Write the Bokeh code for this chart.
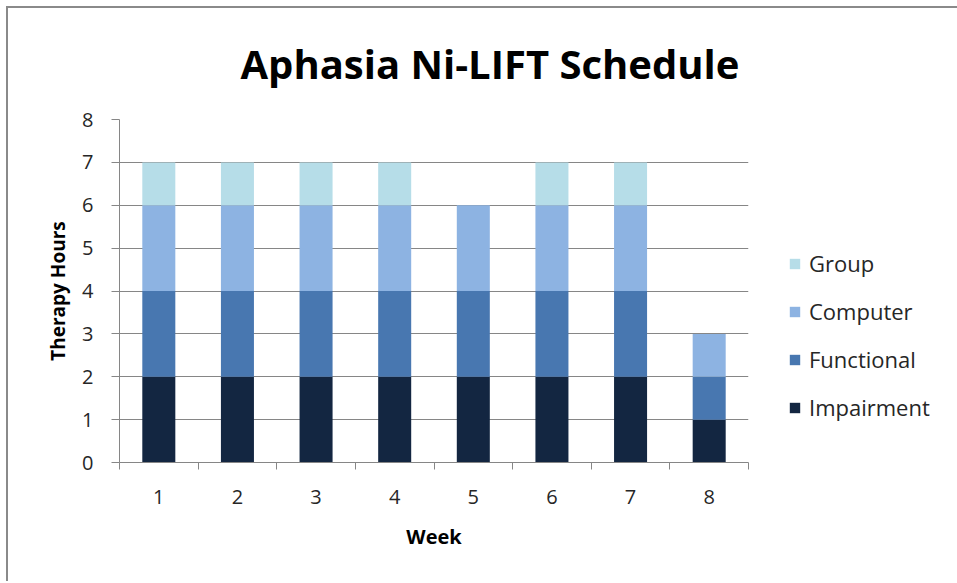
from bokeh.plotting import figure
from bokeh.models import Range1d, FixedTicker, Legend, Title, InlineStyleSheet
from bokeh.embed import file_html
from bokeh.resources import INLINE

weeks = [1, 2, 3, 4, 5, 6, 7, 8]
series = ["Impairment", "Functional", "Computer", "Group"]
impairment = [2, 2, 2, 2, 2, 2, 2, 1]
functional = [2, 2, 2, 2, 2, 2, 2, 1]
computer = [2, 2, 2, 2, 2, 2, 2, 1]
group = [1, 1, 1, 1, 0, 1, 1, 0]
colors = ["#132641", "#4877B0", "#8DB3E2", "#B6DDE8"]
y_ticks = [0, 1, 2, 3, 4, 5, 6, 7, 8]

data = {"week": weeks, "Impairment": impairment, "Functional": functional,
        "Computer": computer, "Group": group}

FONT = "Open Sans"

p = figure(frame_width=629, frame_height=343, output_backend="svg", toolbar_location=None,
           x_range=Range1d(0.5, 8.5), y_range=Range1d(0, 8),
           min_border_left=111, min_border_right=207, min_border_top=111,
           min_border_bottom=119)
p.stylesheets = [InlineStyleSheet(css=":host { margin-left: 6px; margin-top: 6px; border-left: 2px solid #8a8a8a; border-top: 2px solid #8a8a8a; }")]
p.outline_line_color = None
p.background_fill_color = "white"
p.border_fill_color = "white"

renderers = p.vbar_stack(series, x="week", width=0.42, color=colors, source=data,
                         line_color=None)

legend = Legend(items=[(s, [r]) for s, r in zip(series, renderers)][::-1],
                location="bottom_left", margin=40, border_line_color=None,
                background_fill_alpha=0,
                label_text_font=FONT, label_text_font_size="22px",
                label_text_color="#262626",
                glyph_width=13, glyph_height=13, spacing=18, padding=0,
                label_standoff=8, label_height=28)
p.add_layout(legend, "right")

# x axis
p.xaxis.ticker = FixedTicker(ticks=weeks, minor_ticks=[w - 0.5 for w in weeks] + [weeks[-1] + 0.5])
p.xaxis.major_tick_line_color = None
p.xaxis.minor_tick_line_color = "#868686"
p.xaxis.minor_tick_in = 0
p.xaxis.minor_tick_out = 7
p.xaxis.axis_line_color = "#868686"
p.xaxis.major_label_text_font = FONT
p.xaxis.major_label_text_font_size = "20px"
p.xaxis.major_label_text_color = "#262626"
p.xaxis.major_label_standoff = 20
p.xaxis.axis_label = "Week"
p.xaxis.axis_label_text_font = FONT
p.xaxis.axis_label_text_font_style = "bold"
p.xaxis.axis_label_text_font_size = "20px"
p.xaxis.axis_label_text_color = "#000000"
p.xaxis.axis_label_standoff = 16

# y axis
p.yaxis.ticker = FixedTicker(ticks=y_ticks)
p.yaxis.minor_tick_line_color = None
p.yaxis.major_tick_line_color = "#868686"
p.yaxis.major_tick_in = 0
p.yaxis.major_tick_out = 8
p.yaxis.axis_line_color = "#868686"
p.yaxis.major_label_text_font = FONT
p.yaxis.major_label_text_font_size = "20px"
p.yaxis.major_label_text_color = "#262626"
p.yaxis.major_label_standoff = 18
p.yaxis.axis_label = "Therapy Hours"
p.yaxis.axis_label_text_font = FONT
p.yaxis.axis_label_text_font_style = "bold"
p.yaxis.axis_label_text_font_size = "19px"
p.yaxis.axis_label_text_color = "#000000"
p.yaxis.axis_label_standoff = 8

p.xgrid.grid_line_color = None
p.ygrid.ticker = FixedTicker(ticks=y_ticks)
p.ygrid.grid_line_color = "#868686"
p.ygrid.grid_line_width = 1

title = Title(text="Aphasia Ni-LIFT Schedule", align="left", offset=121,
              text_font=FONT, text_font_style="bold", text_font_size="40px",
              text_color="#000000", standoff=53, vertical_align="top")
p.add_layout(title, "above")

open("out.html", "w").write(file_html(p, INLINE))
